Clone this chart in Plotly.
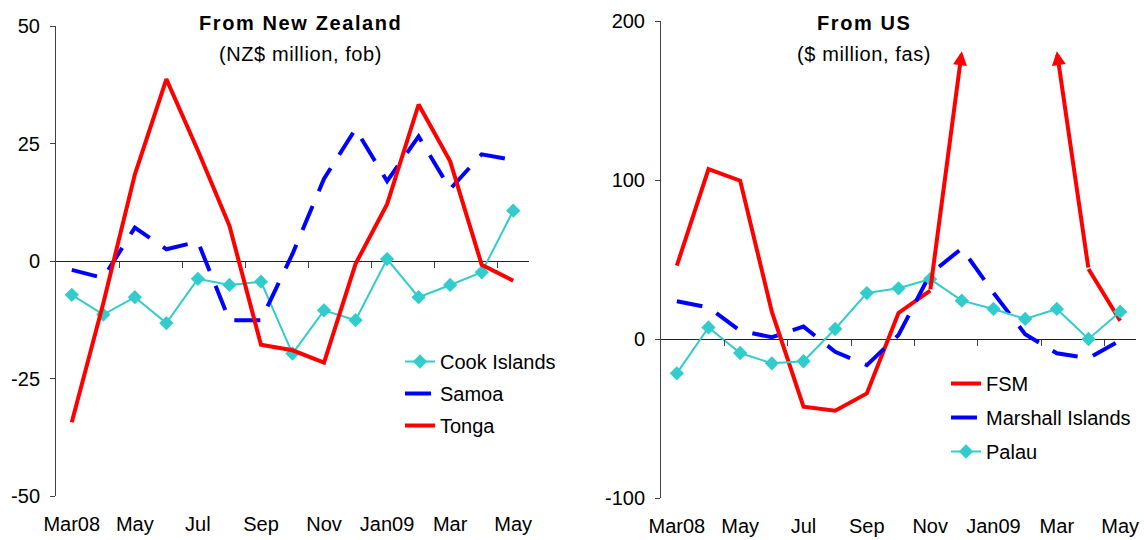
import plotly.graph_objects as go

# ---------------- data ----------------
months = ["Mar08", "Apr", "May", "Jun", "Jul", "Aug", "Sep", "Oct", "Nov", "Dec",
          "Jan09", "Feb", "Mar", "Apr", "May"]
tick_every = 2

# From New Zealand (NZ$ million, fob)
cook_islands = [-7.2, -11.4, -7.7, -13.2, -3.8, -5.1, -4.4, -19.7, -10.5, -12.6, 0.4, -7.7, -5.1, -2.4, 10.7]
samoa = [-1.9, -3.6, 7.1, 2.5, 4.1, -12.6, -12.6, 1.5, 17.5, 28.1, 17.0, 26.5, 15.3, 22.7, 21.5]
tonga = [-34.3, -9.0, 18.4, 38.7, 23.5, 7.5, -17.8, -19.0, -21.6, -0.6, 12.1, 33.3, 21.2, -0.8, -4.2]

# From US ($ million, fas); values beyond the plotted scale are shown capped with an arrow
fsm = [46.1, 106.9, 99.6, 17.2, -42.6, -45.1, -34.2, 16.4, 30.4, 181, None, None, 181, 44.0, 11.5]
fsm_offscale = [False, False, False, False, False, False, False, False, False, True, False, False, True, False, False]
marshall = [23.7, 19.9, 5.2, 1.1, 7.8, -8.0, -16.4, 2.5, 40.9, 57.0, 29.0, 3.0, -9.0, -12.0, -1.0]
palau = [-21.6, 7.3, -8.8, -15.3, -14.0, 6.3, 28.9, 31.9, 37.7, 24.1, 18.9, 12.6, 18.9, 0.0, 17.2]

left_range = [-50, 50]
left_ticks = [-50, -25, 0, 25, 50]
right_range = [-100, 200]
right_ticks = [-100, 0, 100, 200]

# ---------------- styling ----------------
W, H = 1144, 540
RED = "#FF0000"
BLUE = "#0000FF"
CYAN = "#33CCCC"
AXC = "#404040"
FONT = "Arial, Liberation Sans, sans-serif"
FS = 20
DASH = "26px,16px"

x = list(range(len(months)))
label_vals = x[::tick_every]
label_text = months[::tick_every]
boundary_ticks = [i + 0.5 for i in x[1:-1:tick_every]]

# pixel layout of plot areas
L_X = (56, 529)
L_Y = (26, 496)
R_X = (661, 1136)
R_Y = (21, 498)


def px(v):
    return v / W


def py(v):
    return 1 - v / H


def xdom(p):
    return [px(p[0]), px(p[1])]


def ydom(p):
    return [py(p[1]), py(p[0])]


def zero_pos(dom, rng):
    return dom[0] + (0 - rng[0]) / (rng[1] - rng[0]) * (dom[1] - dom[0])


fig = go.Figure()

# ---- left panel ----
fig.add_trace(go.Scatter(x=x, y=cook_islands, name="Cook Islands", mode="lines+markers",
                         line=dict(color=CYAN, width=2),
                         marker=dict(symbol="diamond", size=11, color=CYAN),
                         xaxis="x", yaxis="y", legend="legend", legendgroup="a"))
fig.add_trace(go.Scatter(x=x, y=samoa, name="Samoa", mode="lines",
                         line=dict(color=BLUE, width=4, dash=DASH),
                         xaxis="x", yaxis="y", legend="legend", legendgroup="b"))
fig.add_trace(go.Scatter(x=x, y=tonga, name="Tonga", mode="lines",
                         line=dict(color=RED, width=4),
                         xaxis="x", yaxis="y", legend="legend", legendgroup="c"))

# ---- right panel ----
fsm_plot = [None if off else v for v, off in zip(fsm, fsm_offscale)]
fig.add_trace(go.Scatter(x=x, y=fsm_plot, name="FSM", mode="lines",
                         line=dict(color=RED, width=4),
                         xaxis="x2", yaxis="y2", legend="legend2", legendgroup="d"))
fig.add_trace(go.Scatter(x=x, y=marshall, name="Marshall Islands", mode="lines",
                         line=dict(color=BLUE, width=4, dash=DASH),
                         xaxis="x2", yaxis="y2", legend="legend2", legendgroup="e"))
fig.add_trace(go.Scatter(x=x, y=palau, name="Palau", mode="lines+markers",
                         line=dict(color=CYAN, width=2),
                         marker=dict(symbol="diamond", size=11, color=CYAN),
                         xaxis="x2", yaxis="y2", legend="legend2", legendgroup="f"))

# empty traces so the zero-line tick axes are rendered
fig.add_trace(go.Scatter(x=[], y=[], xaxis="x3", yaxis="y", showlegend=False, hoverinfo="skip"))
fig.add_trace(go.Scatter(x=[], y=[], xaxis="x4", yaxis="y2", showlegend=False, hoverinfo="skip"))

# arrows for off-scale FSM values
annotations = []
for i, off in enumerate(fsm_offscale):
    if not off:
        continue
    j = i - 1 if (i - 1 >= 0 and fsm[i - 1] is not None and not fsm_offscale[i - 1]) else i + 1
    annotations.append(dict(x=x[i], y=fsm[i], ax=x[j], ay=fsm[j], xref="x2", yref="y2",
                            axref="x2", ayref="y2", text="", showarrow=True,
                            arrowhead=2, arrowsize=0.7, arrowwidth=4, arrowcolor=RED,
                            standoff=0, startstandoff=0))


def title(xc, text_b, text_sub):
    return [
        dict(x=px(xc), y=py(23), xref="paper", yref="paper", showarrow=False,
             text="<b><span style='letter-spacing:1.6px'>%s</span></b>" % text_b,
             font=dict(size=FS, family=FONT, color="black"), xanchor="center", yanchor="middle"),
        dict(x=px(xc), y=py(54), xref="paper", yref="paper", showarrow=False,
             text="<span style='letter-spacing:0.6px'>%s</span>" % text_sub,
             font=dict(size=FS, family=FONT, color="black"), xanchor="center", yanchor="middle"),
    ]


annotations += title(300, "From New Zealand", "(NZ$ million, fob)")
annotations += title(864, "From US", "($ million, fas)")

common_x = dict(range=[-0.5, len(months) - 0.5], tickmode="array", tickvals=label_vals,
                ticktext=label_text, ticks="", showline=False, showgrid=False, zeroline=False,
                tickfont=dict(size=FS, family=FONT, color="black"), ticklabelstandoff=14,
                automargin=False, ticklabeloverflow="allow")
tick_x = dict(range=[-0.5, len(months) - 0.5], tickmode="array", tickvals=boundary_ticks,
              ticks="outside", ticklen=6, tickwidth=1, tickcolor=AXC, showticklabels=False,
              showline=False, showgrid=False, zeroline=False, anchor="free", side="bottom",
              automargin=False)
common_y = dict(ticks="outside", ticklen=5, tickwidth=1, tickcolor=AXC, showline=True,
                linecolor=AXC, linewidth=1, showgrid=False, zeroline=True, zerolinecolor="#222222",
                zerolinewidth=1, tickfont=dict(size=FS, family=FONT, color="black"),
                ticklabelstandoff=6, tickmode="array", automargin=False)

ld, rd = ydom(L_Y), ydom(R_Y)
fig.update_layout(
    width=W, height=H, margin=dict(l=0, r=0, t=0, b=0, autoexpand=False),
    paper_bgcolor="white", plot_bgcolor="white",
    font=dict(family=FONT, size=FS, color="black"),
    xaxis=dict(common_x, domain=xdom(L_X), anchor="y"),
    yaxis=dict(common_y, domain=ld, range=left_range, tickvals=left_ticks,
               ticktext=[str(v) for v in left_ticks], anchor="x"),
    xaxis2=dict(common_x, domain=xdom(R_X), anchor="y2"),
    yaxis2=dict(common_y, domain=rd, range=right_range, tickvals=right_ticks,
                ticktext=[str(v) for v in right_ticks], anchor="x2"),
    xaxis3=dict(tick_x, overlaying="x", position=zero_pos(ld, left_range)),
    xaxis4=dict(tick_x, overlaying="x2", position=zero_pos(rd, right_range)),
    legend=dict(x=px(400), y=py(342), xanchor="left", yanchor="top",
                font=dict(size=FS, family=FONT), bgcolor="rgba(0,0,0,0)",
                traceorder="grouped", tracegroupgap=3),
    legend2=dict(x=px(946), y=py(364), xanchor="left", yanchor="top",
                 font=dict(size=FS, family=FONT), bgcolor="rgba(0,0,0,0)",
                 traceorder="grouped", tracegroupgap=5),
    annotations=annotations,
    showlegend=True,
)

# remove the default page margin so the 1144x540 figure fills the window exactly
fig.write_html("out.html", config={"displayModeBar": False},
               post_script="document.body.style.margin='0px';")
